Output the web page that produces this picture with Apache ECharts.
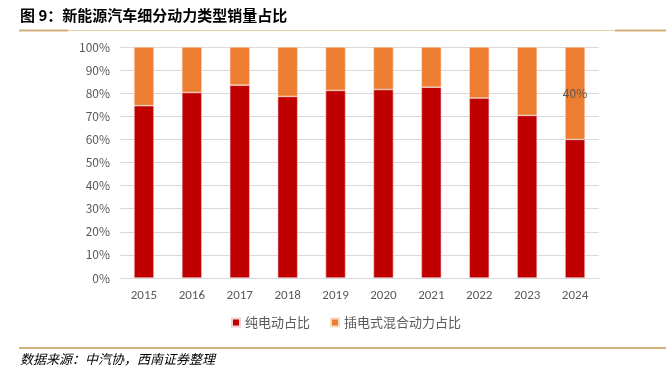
<!DOCTYPE html>
<html><head><meta charset="utf-8">
<script src="https://cdn.jsdelivr.net/npm/echarts@6/dist/echarts.min.js"></script>
<style>html,body{margin:0;padding:0;background:#fff}#c{width:666px;height:368px}</style>
</head><body><div id="c"></div>
<script>
var categories = ['2015','2016','2017','2018','2019','2020','2021','2022','2023','2024'];
var bevShare = [74.6, 80.3, 83.5, 78.6, 81.2, 81.6, 82.6, 77.9, 70.4, 60.0];
var phevShare = [25.4, 19.7, 16.5, 21.4, 18.8, 18.4, 17.4, 22.1, 29.6, 40.0];
var yTicks = ['0%','10%','20%','30%','40%','50%','60%','70%','80%','90%','100%'];
var labeledPhev = ['40%'];

var chart = echarts.init(document.getElementById('c'));
var cjk = '"Noto Sans CJK SC", "Microsoft YaHei", sans-serif';
chart.setOption({
  animation: false,
  textStyle: {fontFamily: cjk},
  grid: {left: 120, right: 67, top: 47, height: 231},
  legend: {
    bottom: 34, left: 226, itemWidth: 8, itemHeight: 8, itemGap: 20,
    icon: 'rect',
    textStyle: {color: '#595959', fontSize: 13, fontFamily: cjk},
    data: ['纯电动占比', '插电式混合动力占比']
  },
  xAxis: {
    type: 'category', data: categories,
    axisLine: {show: true, lineStyle: {color: '#d9d9d9'}},
    axisTick: {show: false},
    axisLabel: {color: '#595959', fontSize: 13, margin: 11, fontFamily: 'Calibri, "Liberation Sans", sans-serif'}
  },
  yAxis: {
    type: 'value', min: 0, max: 100, interval: 10,
    axisLine: {show: false}, axisTick: {show: false},
    splitLine: {lineStyle: {color: '#d9d9d9'}},
    axisLabel: {color: '#595959', fontSize: 12, margin: 10,
      formatter: function (v) { return yTicks[Math.round(v / 10)]; }}
  },
  series: [
    {name: '纯电动占比', type: 'bar', stack: 's', barWidth: 20, data: bevShare,
     itemStyle: {color: '#C00000', borderColor: '#f4d0d0', borderWidth: 0.6}},
    {name: '插电式混合动力占比', type: 'bar', stack: 's', barWidth: 20, data: phevShare,
     itemStyle: {color: '#ED7D31', borderColor: '#f9dcc8', borderWidth: 0.6},
     label: {show: true, position: 'inside', color: '#595959', fontSize: 12,
       formatter: function (p) { return p.dataIndex === categories.length - 1 ? labeledPhev[0] : ''; }}}
  ],
  graphic: [
    {type: 'text', left: 20, top: 8, style: {text: '图 9：新能源汽车细分动力类型销量占比', font: 'bold 15px ' + cjk, fill: '#000'}},
    {type: 'rect', shape: {x: 19, y: 30, width: 647, height: 1}, style: {fill: '#e8cfa6'}},
    {type: 'rect', shape: {x: 19, y: 29.5, width: 49, height: 2}, style: {fill: '#d2b07a'}},
    {type: 'rect', shape: {x: 615, y: 29.5, width: 51, height: 2}, style: {fill: '#d2b07a'}},
    {type: 'rect', shape: {x: 19, y: 347, width: 647, height: 2}, style: {fill: '#d2b07a'}},
    {type: 'text', left: 20, top: 353, style: {text: '数据来源：中汽协，西南证券整理', font: 'italic 13px ' + cjk, fill: '#000'}}
  ]
});
</script></body></html>
